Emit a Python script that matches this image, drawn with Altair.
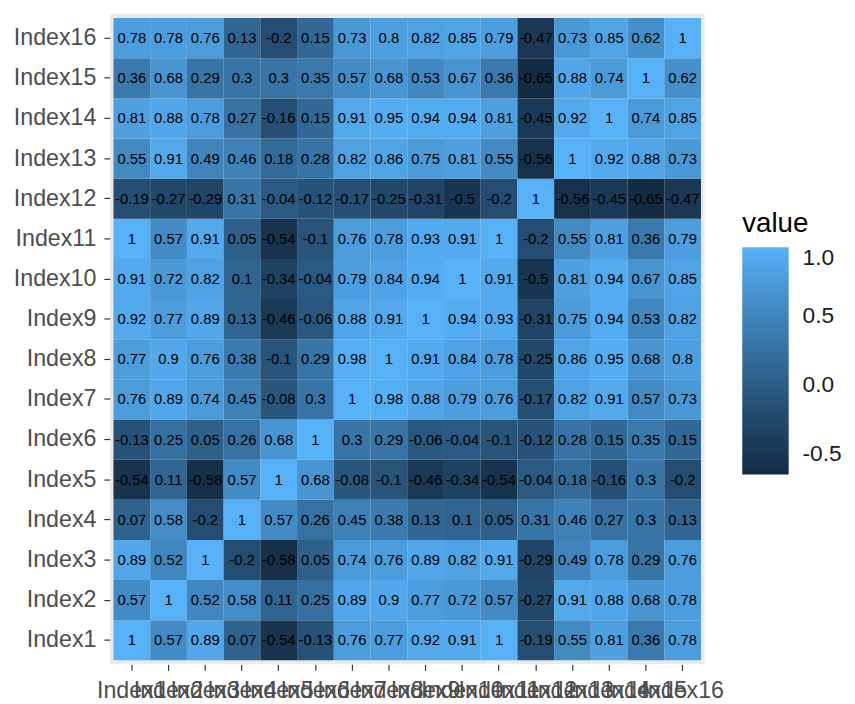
import altair as alt
import pandas as pd

labels = [f"Index{i}" for i in range(1, 17)]

# rows: y = Index1 .. Index16 ; columns: x = Index1 .. Index16
r1 = [1, 0.57, 0.89, 0.07, -0.54, -0.13, 0.76, 0.77, 0.92, 0.91, 1, -0.19, 0.55, 0.81, 0.36, 0.78]
r2 = [0.57, 1, 0.52, 0.58, 0.11, 0.25, 0.89, 0.9, 0.77, 0.72, 0.57, -0.27, 0.91, 0.88, 0.68, 0.78]
r3 = [0.89, 0.52, 1, -0.2, -0.58, 0.05, 0.74, 0.76, 0.89, 0.82, 0.91, -0.29, 0.49, 0.78, 0.29, 0.76]
r4 = [0.07, 0.58, -0.2, 1, 0.57, 0.26, 0.45, 0.38, 0.13, 0.1, 0.05, 0.31, 0.46, 0.27, 0.3, 0.13]
r5 = [-0.54, 0.11, -0.58, 0.57, 1, 0.68, -0.08, -0.1, -0.46, -0.34, -0.54, -0.04, 0.18, -0.16, 0.3, -0.2]
r6 = [-0.13, 0.25, 0.05, 0.26, 0.68, 1, 0.3, 0.29, -0.06, -0.04, -0.1, -0.12, 0.28, 0.15, 0.35, 0.15]
r7 = [0.76, 0.89, 0.74, 0.45, -0.08, 0.3, 1, 0.98, 0.88, 0.79, 0.76, -0.17, 0.82, 0.91, 0.57, 0.73]
r8 = [0.77, 0.9, 0.76, 0.38, -0.1, 0.29, 0.98, 1, 0.91, 0.84, 0.78, -0.25, 0.86, 0.95, 0.68, 0.8]
r9 = [0.92, 0.77, 0.89, 0.13, -0.46, -0.06, 0.88, 0.91, 1, 0.94, 0.93, -0.31, 0.75, 0.94, 0.53, 0.82]
r10 = [0.91, 0.72, 0.82, 0.1, -0.34, -0.04, 0.79, 0.84, 0.94, 1, 0.91, -0.5, 0.81, 0.94, 0.67, 0.85]
r11 = [1, 0.57, 0.91, 0.05, -0.54, -0.1, 0.76, 0.78, 0.93, 0.91, 1, -0.2, 0.55, 0.81, 0.36, 0.79]
r12 = [-0.19, -0.27, -0.29, 0.31, -0.04, -0.12, -0.17, -0.25, -0.31, -0.5, -0.2, 1, -0.56, -0.45, -0.65, -0.47]
r13 = [0.55, 0.91, 0.49, 0.46, 0.18, 0.28, 0.82, 0.86, 0.75, 0.81, 0.55, -0.56, 1, 0.92, 0.88, 0.73]
r14 = [0.81, 0.88, 0.78, 0.27, -0.16, 0.15, 0.91, 0.95, 0.94, 0.94, 0.81, -0.45, 0.92, 1, 0.74, 0.85]
r15 = [0.36, 0.68, 0.29, 0.3, 0.3, 0.35, 0.57, 0.68, 0.53, 0.67, 0.36, -0.65, 0.88, 0.74, 1, 0.62]
r16 = [0.78, 0.78, 0.76, 0.13, -0.2, 0.15, 0.73, 0.8, 0.82, 0.85, 0.79, -0.47, 0.73, 0.85, 0.62, 1]

matrix = [r1, r2, r3, r4, r5, r6, r7, r8, r9, r10, r11, r12, r13, r14, r15, r16]
legend_values = [1.0, 0.5, 0.0, -0.5]

records = []
for yi, row in enumerate(matrix):
    for xi, v in enumerate(row):
        records.append({"Var1": labels[xi], "Var2": labels[yi], "value": v, "label": f"{v:g}"})
df = pd.DataFrame(records)

vmin = min(min(r) for r in matrix)
vmax = max(max(r) for r in matrix)

font = "Liberation Sans"

x_enc = alt.X(
    "Var1:N", sort=labels, title=None,
    scale=alt.Scale(paddingInner=0, paddingOuter=0.1),
    axis=alt.Axis(labelAngle=0, labelOverlap=False, labelFontSize=23.5, labelColor="#4D4D4D",
                  labelFont=font, tickSize=6, tickColor="#333333", tickWidth=1.2, labelPadding=9,
                  domain=False, grid=False, bandPosition=0.5, labelLimit=500),
)
y_enc = alt.Y(
    "Var2:N", sort=labels[::-1], title=None,
    scale=alt.Scale(paddingInner=0, paddingOuter=0.1),
    axis=alt.Axis(labelFontSize=23.5, labelColor="#4D4D4D", labelFont=font, tickSize=6,
                  tickColor="#333333", tickWidth=1.2, labelPadding=8, domain=False, grid=False,
                  bandPosition=0.5, labelLimit=500),
)

base = alt.Chart(df).encode(x=x_enc, y=y_enc)

tiles = base.mark_rect(strokeWidth=0).encode(
    color=alt.Color(
        "value:Q",
        scale=alt.Scale(domain=[vmin, vmax], range=["#132B43", "#56B1F7"], interpolate="lab"),
        legend=alt.Legend(
            title="value", orient="none", legendX=640, legendY=198,
            gradientLength=230, gradientThickness=47, values=legend_values,
            labelExpr="datum.value < 0 ? '-' + format(-datum.value, '.1f') : format(datum.value, '.1f')",
            labelFontSize=23, labelFont=font, labelColor="#1A1A1A", labelOffset=14,
            titleFontSize=28, titleFont=font, titleColor="#000000", titleFontWeight="normal",
            titlePadding=10, gradientStrokeWidth=0,
        ),
    )
)

texts = base.mark_text(fontSize=15, font=font, color="#000000").encode(text="label:N")

chart = (
    alt.layer(tiles, texts)
    .properties(width=602, height=658, padding={"left": 5, "top": 2, "right": 5, "bottom": 0})
    .configure_view(fill="#EBEBEB", stroke=None)
)

chart.save("out.html", embed_options={"renderer": "svg", "actions": False})
